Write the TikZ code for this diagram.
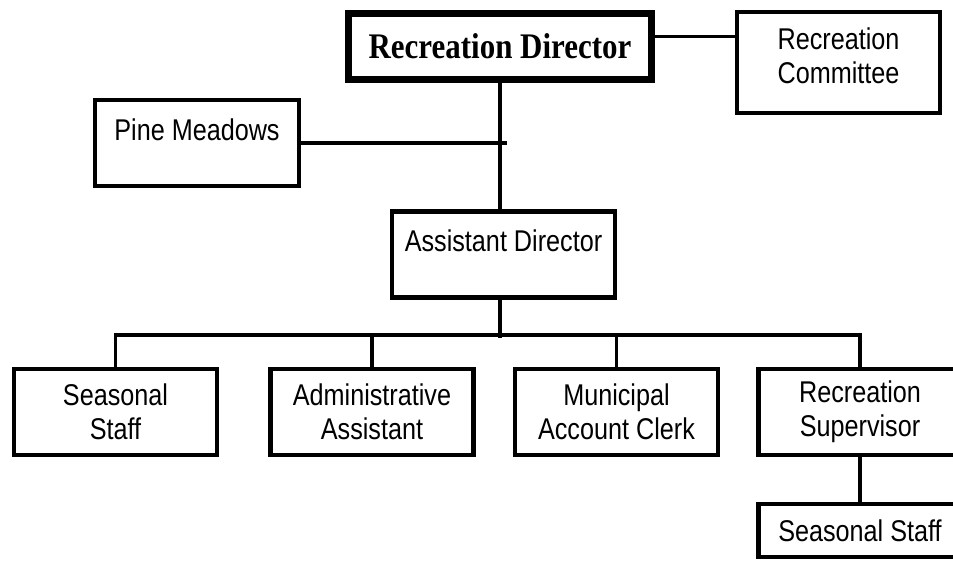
\documentclass[tikz,border=0pt]{standalone}
\usepackage{fontspec}
\newfontfamily\chartsans[FakeStretch=0.84]{Liberation Sans}
\newfontfamily\chartserif[FakeStretch=0.86]{Liberation Serif}
\tikzset{
  orgbox/.style={
    draw=black,
    line width=4.5pt,
    inner sep=0pt,
    minimum width=203pt,
    minimum height=86pt,
    align=center,
    font=\chartsans\fontsize{30}{34}\selectfont
  },
  headbox/.style={
    draw=black,
    line width=7pt,
    inner sep=0pt,
    minimum width=303pt,
    minimum height=66pt,
    font=\chartserif\bfseries\fontsize{36}{40}\selectfont
  },
  orgline/.style={
    draw=black,
    line width=3.3pt
  }
}
\begin{document}
\begin{tikzpicture}[x=1pt,y=-1pt]

  % Page frame, the right-hand boxes run past it as in the scan.
  \useasboundingbox (0,0) rectangle (953,560);
  \clip (0,0) rectangle (953,560);

  % Top of the chart.
  \node[headbox] (dir) at (500,46.5) {Recreation Director};
  \node[orgbox,minimum width=203pt,text height=71pt,text depth=30pt] (comm) at (838.5,62.5) {Recreation\\Committee};
  \node[orgbox,minimum width=204pt,text height=40pt,text depth=46pt] (pine) at (197,143) {Pine Meadows};
  \node[orgbox,minimum width=223pt,text height=39pt,text depth=46pt] (asst) at (503.5,254.5) {Assistant Director};

  % Staff row under the assistant director.
  \node[orgbox] (staff) at (115.5,412) {Seasonal\\Staff};
  \node[orgbox] (admin) at (372,412) {Administrative\\Assistant};
  \node[orgbox] (clerk) at (616.5,412) {Municipal\\Account Clerk};
  \node[orgbox] (super) at (860,412) {Recreation\\Supervisor};
  \node[orgbox,minimum height=53pt] (season) at (860,530.5) {Seasonal Staff};

  % Joints of the connector lines.
  \coordinate (bus) at (500,335);
  \coordinate (pinejoin) at (507,143);

  % Director links.
  \draw[orgline] ([yshift=10pt]dir.east) -- ([yshift=10pt]dir.east -| comm.west);
  \draw[orgline] (dir.south) -- (dir.south |- asst.north);
  \draw[orgline] (pine) -- (pinejoin);

  % Bus down to the staff row.
  \draw[orgline] (dir.south |- asst.south) -- ([yshift=-3pt]bus);
  \draw[orgline] (staff.north) -- (staff.north |- bus) -- (super.north |- bus) -- (super.north);
  \foreach \n in {admin,clerk}
    \draw[orgline] (\n.north |- bus) -- (\n.north);
  \draw[orgline] (super) -- (season);

\end{tikzpicture}
\end{document}
